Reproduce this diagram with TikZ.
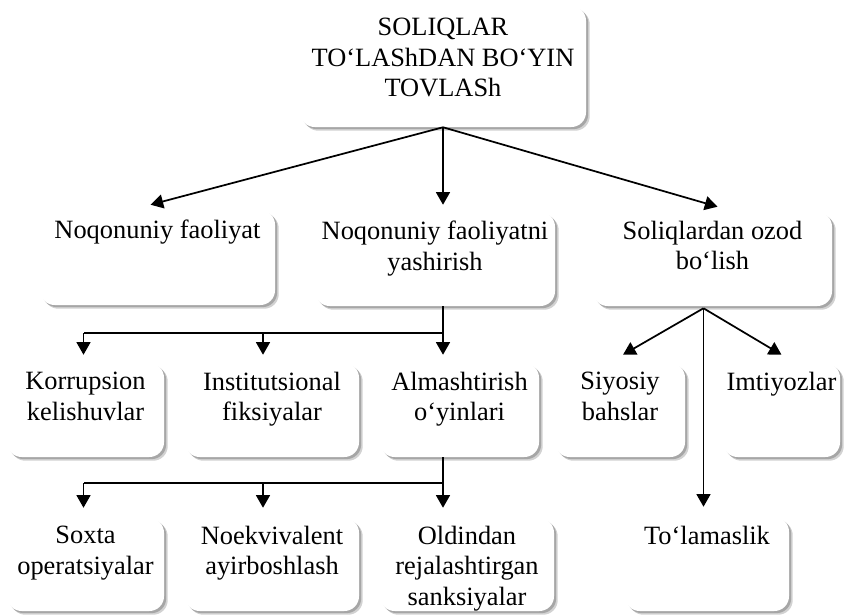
\documentclass[tikz,border=0pt]{standalone}
\usepackage{fontspec}
\setmainfont{Liberation Serif}
\usetikzlibrary{arrows.meta,calc,fit,shadows}
\begin{document}
\begin{tikzpicture}[x=0.75pt,y=-0.75pt,
  box/.style={fill=white, draw=none, rounded corners=11pt, inner sep=0pt,
    general shadow={fill=gray!35, shadow xshift=2.8pt, shadow yshift=-2.8pt},
    general shadow={fill=gray!70, shadow xshift=1.6pt, shadow yshift=-1.6pt}},
  txt/.style={anchor=north, inner sep=0pt, align=center, font=\fontsize{19.8}{23}\selectfont},
  line/.style={line width=1.3pt},
  arr/.style={line width=1.3pt, -{Triangle[length=9.5pt,width=10.5pt]}}]
\useasboundingbox[fill=white] (0,0) rectangle (846,614);

% boxes
\node[box, fit={(300,6) (586,127)}] (top) {};
\node[box, fit={(40,210) (275,305)}] (A) {};
\node[box, fit={(315,212) (555,306)}] (B) {};
\node[box, fit={(593,212) (832,306)}] (C) {};
\node[box, fit={(7,363) (164,457)}] (K) {};
\node[box, fit={(185,363) (359,457)}] (I) {};
\node[box, fit={(380,363) (539,457)}] (Al) {};
\node[box, fit={(555,363) (685,457)}] (Si) {};
\node[box, fit={(723,363) (840,457)}] (Im) {};
\node[box, fit={(7,518) (164,611)}] (So) {};
\node[box, fit={(185,518) (359,611)}] (No) {};
\node[box, fit={(380,518) (554,611)}] (Ol) {};
\node[box, fit={(625,517) (789,611)}] (To) {};

% texts
\node[txt] (topt) at ($(top.north)+(0,12)$) {SOLIQLAR\\TO‘LAShDAN BO‘YIN\\TOVLASh};
\node[txt] (At) at ($(A.north)+(0,10)$) {Noqonuniy faoliyat};
\node[txt] (Bt) at ($(B.north)+(0,9)$) {Noqonuniy faoliyatni\\yashirish};
\node[txt] (Ct) at ($(C.north)+(0,9)$) {Soliqlardan ozod\\bo‘lish};
\node[txt] (Kt) at ($(K.north)+(0,9)$) {Korrupsion\\kelishuvlar};
\node[txt] (It) at ($(I.north)+(0,9)$) {Institutsional\\fiksiyalar};
\node[txt] (Alt) at ($(Al.north)+(0,9)$) {Almashtirish\\o‘yinlari};
\node[txt] (Sit) at ($(Si.north)+(0,9)$) {Siyosiy\\bahslar};
\node[txt] (Imt) at ($(Im.north)+(0,9)$) {Imtiyozlar};
\node[txt] (Sot) at ($(So.north)+(0,8)$) {Soxta\\operatsiyalar};
\node[txt] (Not) at ($(No.north)+(0,8)$) {Noekvivalent\\ayirboshlash};
\node[txt] (Olt) at ($(Ol.north)+(0,8)$) {Oldindan\\rejalashtirgan\\sanksiyalar};
\node[txt] (Tot) at ($(To.north)+(0,9)$) {To‘lamaslik};

% top level connectors
\draw[arr] (top.south) -- ($(A.north)+(-7,-5)$);
\draw[arr] (top.south) -- ($(top.south |- B.north)+(0,-7)$);
\draw[arr] (top.south) -- ($(C.north)+(5,-5)$);

% B -> row 3
\coordinate (j1) at ($(top.south |- B.south)+(0,27)$);
\draw[line] (top.south |- B.south) -- (j1) -- ($(j1 -| K.north)+(-2,0)$);
\draw[arr] ($(j1 -| K.north)+(-2,0)$) -- ($(K.north)+(-2,-8)$);
\draw[arr] ($(j1 -| I.north)+(-9,0)$) -- ($(I.north)+(-9,-8)$);
\draw[arr] (j1) -- ($(j1 |- Al.north)+(0,-8)$);

% Al -> row 4
\coordinate (j2) at ($(top.south |- Al.south)+(0,26)$);
\draw[line] (top.south |- Al.south) -- (j2) -- ($(j2 -| So.north)+(-2,0)$);
\draw[arr] ($(j2 -| So.north)+(-2,0)$) -- ($(So.north)+(-2,-10)$);
\draw[arr] ($(j2 -| No.north)+(-9,0)$) -- ($(No.north)+(-9,-10)$);
\draw[arr] (j2) -- ($(j2 |- Ol.north)+(0,-10)$);

% C -> children
\coordinate (cap) at ($(C.south)+(-9,2)$);
\draw[arr] (cap) -- ($(Si.north)+(3,-8)$);
\draw[arr] (cap) -- ($(Im.north)+(0,-8)$);
\draw[arr] (cap) -- ($(cap |- To.north)+(0,-10)$);
\end{tikzpicture}
\end{document}
